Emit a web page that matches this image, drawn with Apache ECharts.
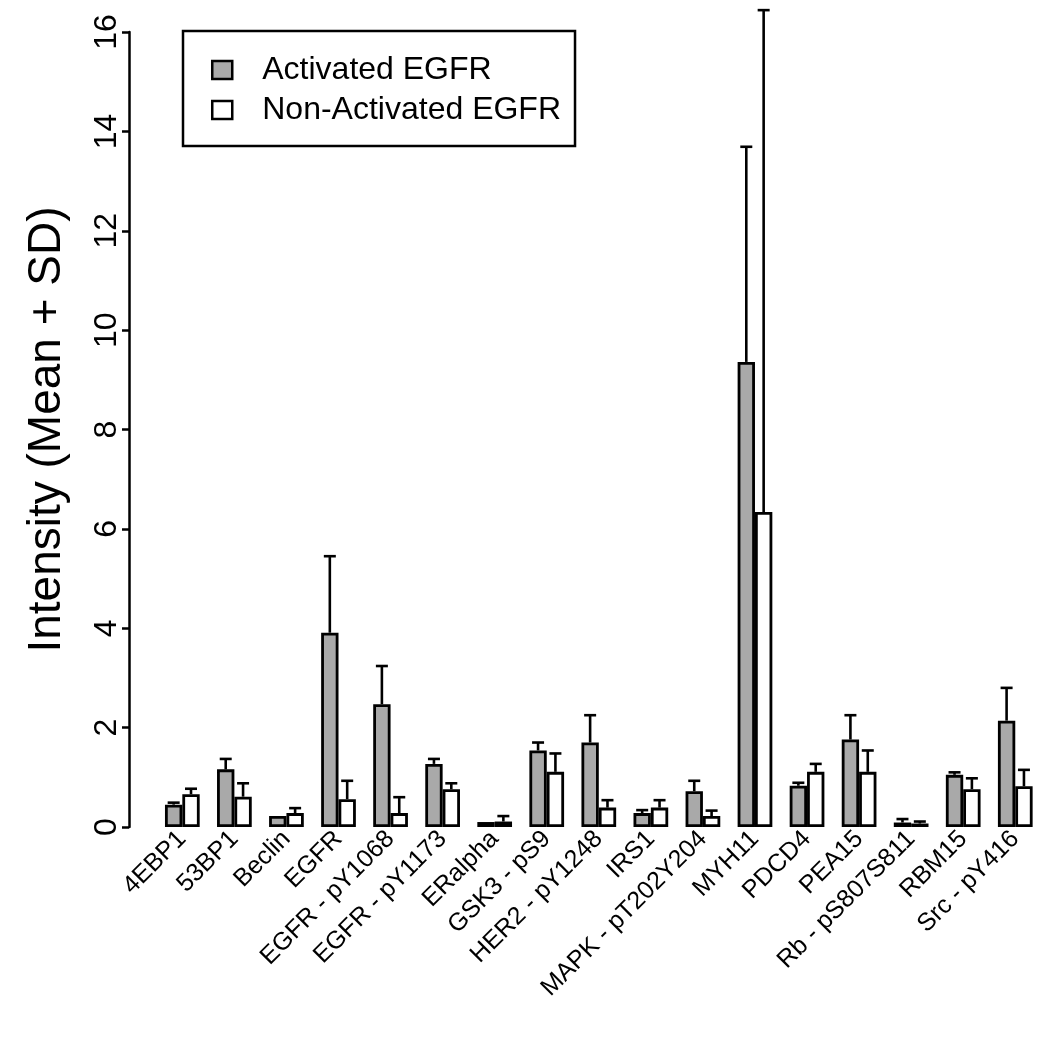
<!DOCTYPE html>
<html>
<head>
<meta charset="utf-8">
<script src="https://cdn.jsdelivr.net/npm/echarts@6/dist/echarts.min.js"></script>
<style>html,body{margin:0;padding:0;background:#fff}#c{width:1050px;height:1050px}</style>
</head>
<body>
<div id="c"></div>
<script>
const categories = ['4EBP1','53BP1','Beclin','EGFR','EGFR - pY1068','EGFR - pY1173','ERalpha','GSK3 - pS9','HER2 - pY1248','IRS1','MAPK - pT202Y204','MYH11','PDCD4','PEA15','Rb - pS807S811','RBM15','Src - pY416'];
const activatedMean = [0.45, 1.16, 0.22, 3.91, 2.47, 1.27, 0.10, 1.54, 1.70, 0.28, 0.72, 9.36, 0.83, 1.76, 0.09, 1.05, 2.14];
const activatedSD   = [0.04, 0.21, 0.00, 1.54, 0.77, 0.10, 0.00, 0.16, 0.55, 0.06, 0.21, 4.33, 0.06, 0.49, 0.07, 0.05, 0.66];
const nonActMean    = [0.66, 0.61, 0.28, 0.56, 0.28, 0.76, 0.11, 1.11, 0.39, 0.39, 0.22, 6.34, 1.11, 1.11, 0.07, 0.76, 0.82];
const nonActSD      = [0.11, 0.27, 0.10, 0.37, 0.32, 0.12, 0.11, 0.37, 0.15, 0.15, 0.11, 10.10, 0.16, 0.43, 0.04, 0.22, 0.33];
const yTicks = {min: 0, max: 16, interval: 2};
const seriesNames = ['Activated EGFR', 'Non-Activated EGFR'];

const FONT = "'Liberation Sans', Arial, sans-serif";

function errData(means, sds, side) {
  const out = [];
  means.forEach((m, i) => { if (sds[i] > 0) out.push([i, m, m + sds[i], side]); });
  return out;
}

function renderErr(params, api) {
  const x = api.value(0), lo = api.value(1), hi = api.value(2), side = api.value(3);
  const p0 = api.coord([x, lo]);
  const p1 = api.coord([x, hi]);
  const band = api.size([1, 0])[0];
  const w = band / 3;
  const cx = p0[0] + side * w / 2;
  const st = {stroke: '#000', lineWidth: 2.6};
  return {
    type: 'group',
    children: [
      {type: 'line', shape: {x1: cx, y1: p0[1], x2: cx, y2: p1[1]}, style: st},
      {type: 'line', shape: {x1: cx - 6, y1: p1[1], x2: cx + 6, y2: p1[1]}, style: st}
    ]
  };
}

const chart = echarts.init(document.getElementById('c'), null, {renderer: 'canvas'});
chart.setOption({
  animation: false,
  backgroundColor: '#fff',
  textStyle: {fontFamily: FONT},
  grid: {left: 156.3, right: 8.7, top: 32, bottom: 223, containLabel: false},
  legend: {
    data: seriesNames,
    orient: 'vertical',
    left: 183,
    top: 31,
    borderColor: '#000',
    borderWidth: 2.5,
    borderRadius: 0,
    padding: [23, 14, 20, 28],
    itemGap: 8,
    itemWidth: 20,
    itemHeight: 18,
    icon: 'rect',
    itemStyle: {borderColor: '#000', borderWidth: 2.5},
    formatter: function (name) { return '{g|}{t|' + name + '}'; },
    textStyle: {
      fontSize: 32, lineHeight: 32, color: '#000', fontFamily: FONT,
      rich: {
        g: {width: 25, height: 32},
        t: {fontSize: 32, lineHeight: 32, color: '#000', fontFamily: FONT}
      }
    },
    selectedMode: false
  },
  xAxis: {
    type: 'category',
    data: categories,
    axisLine: {show: false},
    axisTick: {show: false},
    axisLabel: {interval: 0, rotate: 45, fontSize: 25, color: '#000', margin: 8, fontFamily: FONT},
    splitLine: {show: false}
  },
  yAxis: {
    type: 'value',
    min: yTicks.min, max: yTicks.max, interval: yTicks.interval,
    offset: 27.3,
    name: 'Intensity (Mean + SD)',
    nameLocation: 'middle',
    nameRotate: 90,
    nameGap: 59,
    nameTextStyle: {fontSize: 46, color: '#000', fontFamily: FONT},
    axisLine: {show: true, lineStyle: {color: '#000', width: 2.5}},
    axisTick: {show: true, length: 7, lineStyle: {color: '#000', width: 2.5}},
    axisLabel: {rotate: 90, fontSize: 32, color: '#000', margin: 6, fontFamily: FONT},
    splitLine: {show: false}
  },
  series: [
    {
      name: seriesNames[0], type: 'bar', data: activatedMean,
      barGap: '0%', barCategoryGap: '33.33%',
      itemStyle: {color: '#a9a9a9', borderColor: '#000', borderWidth: 2.8}
    },
    {
      name: seriesNames[1], type: 'bar', data: nonActMean,
      barGap: '0%', barCategoryGap: '33.33%',
      itemStyle: {color: '#ffffff', borderColor: '#000', borderWidth: 2.8}
    },
    {
      type: 'custom', name: 'errA', renderItem: renderErr, clip: false, z: 5,
      encode: {x: 0, y: [1, 2]},
      data: errData(activatedMean, activatedSD, -1)
    },
    {
      type: 'custom', name: 'errN', renderItem: renderErr, clip: false, z: 5,
      encode: {x: 0, y: [1, 2]},
      data: errData(nonActMean, nonActSD, 1)
    }
  ]
});
</script>
</body>
</html>
